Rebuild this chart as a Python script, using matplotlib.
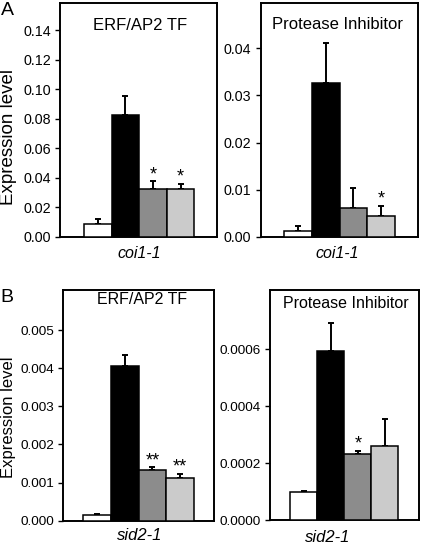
import matplotlib
matplotlib.use('Agg')
import matplotlib.pyplot as plt
from matplotlib.ticker import FormatStrFormatter

plt.rcParams['font.family'] = ['Liberation Sans', 'DejaVu Sans']

W, H = 421, 546

bar_colors = ['white', 'black', '#8c8c8c', '#cbcbcb']

# panel A, coi1-1
erf_coi = [0.0090, 0.0828, 0.0327, 0.0323]
erf_coi_err = [0.0032, 0.0125, 0.0050, 0.0036]
erf_coi_stars = ['', '', '*', '*']

pi_coi = [0.0013, 0.0327, 0.0062, 0.0045]
pi_coi_err = [0.0011, 0.0084, 0.0041, 0.0021]
pi_coi_stars = ['', '', '', '*']

# panel B, sid2-1
erf_sid = [0.00014, 0.00407, 0.00134, 0.00113]
erf_sid_err = [0.000035, 0.00027, 0.00006, 0.00010]
erf_sid_stars = ['', '', '**', '**']

pi_sid = [0.0000977, 0.000595, 0.000233, 0.000259]
pi_sid_err = [0.000005, 0.000098, 0.000010, 0.000095]
pi_sid_stars = ['', '', '*', '']


def fig_xy(px, py):
    return px / W, 1 - py / H


def panel(box, vals, errs, stars, ylim, xlim, ticks, fmt, ticksize):
    x0, y0, x1, y1 = box
    ax = fig.add_axes([x0 / W, 1 - y1 / H, (x1 - x0) / W, (y1 - y0) / H])
    xs = range(len(vals))
    ax.bar(xs, vals, width=1.0, color=bar_colors, edgecolor='black',
           linewidth=1.1, zorder=3)
    ax.errorbar(xs, vals, yerr=[[0] * len(vals), errs], fmt='none',
                ecolor='black', elinewidth=1.4, capsize=2.5, capthick=1.4,
                zorder=2)
    for i, s in enumerate(stars):
        if s:
            ax.annotate(s, (i, vals[i] + errs[i]), xytext=(0, 1.5),
                        textcoords='offset points', ha='center',
                        va='baseline', fontsize=13)
    ax.set_xlim(*xlim)
    ax.set_ylim(*ylim)
    ax.set_xticks([])
    ax.set_yticks(ticks)
    ax.yaxis.set_major_formatter(FormatStrFormatter(fmt))
    ax.tick_params(axis='y', direction='out', length=3.5, width=1,
                   pad=3, labelsize=ticksize)
    for sp in ax.spines.values():
        sp.set_linewidth(1.4)
    return ax


fig = plt.figure(figsize=(W / 100, H / 100), dpi=100)

panel((60, 2.5, 216.5, 237), erf_coi, erf_coi_err, erf_coi_stars,
      (0, 0.1586), (-1.37, 4.30), [0, 0.02, 0.04, 0.06, 0.08, 0.10, 0.12, 0.14],
      '%.2f', 10.3)
panel((260.5, 2.5, 418, 237), pi_coi, pi_coi_err, pi_coi_stars,
      (0, 0.0497), (-1.35, 4.33), [0, 0.01, 0.02, 0.03, 0.04], '%.2f', 10.3)
panel((63, 290, 214, 520.7), erf_sid, erf_sid_err, erf_sid_stars,
      (0, 0.00605), (-1.22, 4.22), [0, 0.001, 0.002, 0.003, 0.004, 0.005],
      '%.3f', 9.7)
panel((270, 290, 419, 520.3), pi_sid, pi_sid_err, pi_sid_stars,
      (0, 0.000808), (-1.24, 4.26), [0, 0.0002, 0.0004, 0.0006], '%.4f', 9.7)

# titles inside the boxes
fig.text(*fig_xy(140, 25), 'ERF/AP2 TF', ha='center', va='center', fontsize=12)
fig.text(*fig_xy(338, 24.5), 'Protease Inhibitor', ha='center', va='center', fontsize=12)
fig.text(*fig_xy(142, 300), 'ERF/AP2 TF', ha='center', va='center', fontsize=11.5)
fig.text(*fig_xy(346, 303), 'Protease Inhibitor', ha='center', va='center', fontsize=11.5)

# genotype labels
fig.text(*fig_xy(139, 254), 'coi1-1', ha='center', va='center', fontsize=11.5, style='italic')
fig.text(*fig_xy(337.5, 254), 'coi1-1', ha='center', va='center', fontsize=11.5, style='italic')
fig.text(*fig_xy(139.5, 536), 'sid2-1', ha='center', va='center', fontsize=12, style='italic')
fig.text(*fig_xy(328, 537), 'sid2-1', ha='center', va='center', fontsize=12, style='italic')

# y labels
fig.text(*fig_xy(9, 137), 'Expression level', ha='center', va='center',
         rotation=90, fontsize=13.5)
fig.text(*fig_xy(9, 417), 'Expression level', ha='center', va='center',
         rotation=90, fontsize=12)

# panel letters
fig.text(*fig_xy(1, 2), 'A', ha='left', va='top', fontsize=14)
fig.text(*fig_xy(0, 289), 'B', ha='left', va='top', fontsize=14)

fig.savefig('out.png', dpi=100)
